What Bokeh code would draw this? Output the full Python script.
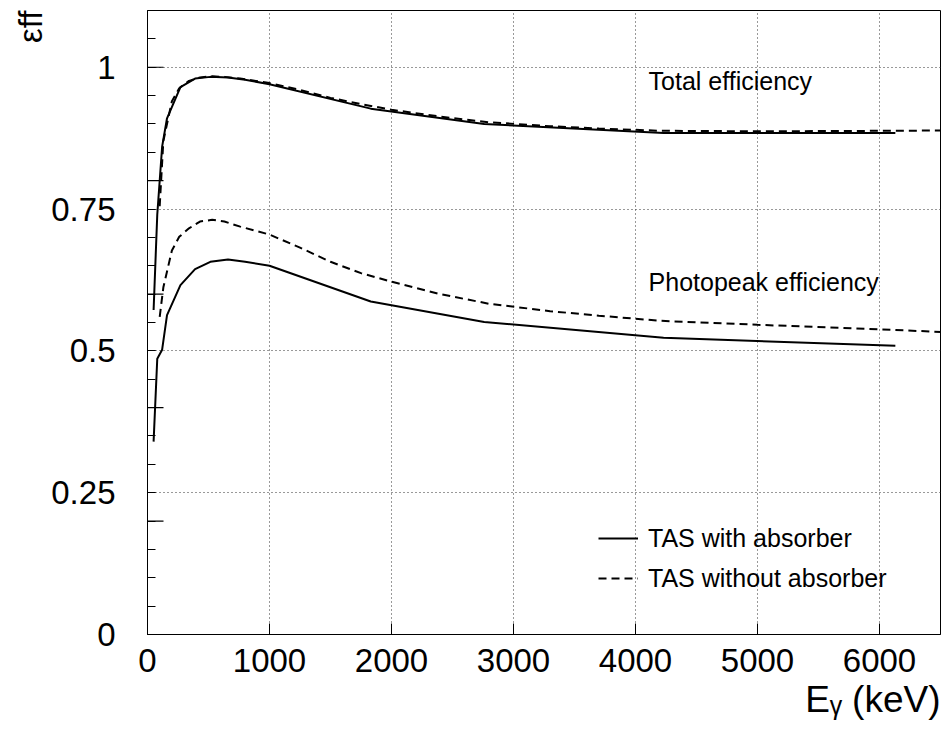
from bokeh.plotting import figure
from bokeh.models import (Range1d, FixedTicker, Label, Legend, LegendItem,
                          NumeralTickFormatter, Title)
from bokeh.embed import file_html
from bokeh.resources import INLINE

# Simulated detector efficiencies vs gamma energy (keV)
energy_with = [50, 80, 120, 160, 270, 390, 515, 660, 800, 1000, 1830, 2760, 4230, 6130]
total_with = [0.572, 0.740, 0.860, 0.910, 0.965, 0.980, 0.983, 0.982, 0.978, 0.970,
              0.927, 0.900, 0.884, 0.884]
peak_with = [0.340, 0.486, 0.502, 0.563, 0.616, 0.644, 0.657, 0.661, 0.657, 0.650,
             0.587, 0.551, 0.523, 0.509]

energy_without = [100, 130, 200, 260, 340, 430, 530, 630, 760, 1000, 1250, 1500, 1750,
                  2000, 2400, 2800, 3300, 3700, 4200, 5000, 6100, 7000]
total_without = [0.755, 0.870, 0.940, 0.963, 0.976, 0.982, 0.984, 0.983, 0.980, 0.972,
                 0.960, 0.946, 0.935, 0.925, 0.913, 0.903, 0.896, 0.892, 0.888, 0.887,
                 0.888, 0.889]
peak_without = [0.560, 0.612, 0.677, 0.701, 0.716, 0.728, 0.731, 0.728, 0.719, 0.705,
                0.682, 0.657, 0.637, 0.622, 0.600, 0.583, 0.570, 0.562, 0.553, 0.546,
                0.537, 0.529]

x_ticks = [0, 1000, 2000, 3000, 4000, 5000, 6000]
y_label_ticks = [0, 0.25, 0.5, 0.75, 1.0]
y_long_ticks = [0, 0.2, 0.4, 0.6, 0.8, 1.0]
y_minor_ticks = [round(0.05 * k, 2) for k in range(0, 23)]

FONT = "Liberation Sans"

p = figure(width=941, height=734, output_backend="svg", toolbar_location=None,
           x_range=Range1d(0, 6500), y_range=Range1d(0, 1.1),
           min_border_left=147, min_border_right=1, min_border_top=10,
           min_border_bottom=100)
p.background_fill_color = "white"
p.border_fill_color = "white"
p.outline_line_color = "black"
p.outline_line_width = 1

# x axis
p.xaxis.ticker = FixedTicker(ticks=x_ticks, minor_ticks=[])
p.xaxis.major_tick_in = 11
p.xaxis.major_tick_out = 0
p.xaxis.minor_tick_in = 0
p.xaxis.minor_tick_out = 0
p.xaxis.major_label_text_font = FONT
p.xaxis.major_label_text_font_size = "33px"
p.xaxis.major_label_text_color = "black"
p.xaxis.major_label_standoff = 14
p.xaxis.axis_line_color = "black"
p.xaxis.major_tick_line_color = "black"

# y axis
p.yaxis.ticker = FixedTicker(ticks=y_label_ticks, minor_ticks=y_minor_ticks)
p.yaxis.formatter = NumeralTickFormatter(format="0.[00]")
p.yaxis.major_tick_in = 8
p.yaxis.major_tick_out = 0
p.yaxis.minor_tick_in = 8
p.yaxis.minor_tick_out = 0
p.yaxis.major_label_text_font = FONT
p.yaxis.major_label_text_font_size = "33px"
p.yaxis.major_label_text_color = "black"
p.yaxis.major_label_standoff = 32
p.yaxis.axis_line_color = "black"
p.yaxis.major_tick_line_color = "black"
p.yaxis.minor_tick_line_color = "black"

# dotted grid
p.xgrid.ticker = FixedTicker(ticks=x_ticks)
p.ygrid.ticker = FixedTicker(ticks=y_label_ticks)
for g in (p.xgrid, p.ygrid):
    g.grid_line_color = "#333333"
    g.grid_line_dash = "1 3"
    g.grid_line_width = 1

# longer primary ticks on the left edge
p.ray(x=[0] * len(y_long_ticks), y=y_long_ticks, length=16, angle=0,
      length_units="screen", line_color="black", line_width=1.2)

r_tot_with = p.line(energy_with, total_with, line_color="black", line_width=2)
r_pk_with = p.line(energy_with, peak_with, line_color="black", line_width=2)
r_tot_without = p.line(energy_without, total_without, line_color="black",
                       line_width=2, line_dash="8 5")
r_pk_without = p.line(energy_without, peak_without, line_color="black",
                      line_width=2, line_dash="8 5")

legend = Legend(items=[LegendItem(label="TAS with absorber", renderers=[r_tot_with]),
                       LegendItem(label="TAS without absorber", renderers=[r_tot_without])],
                location=(451, 36), padding=0, margin=0, spacing=0,
                glyph_width=40, glyph_height=40, label_height=40, label_standoff=10,
                label_text_font=FONT, label_text_font_size="25px",
                label_text_color="black",
                border_line_color=None, background_fill_alpha=0)
p.add_layout(legend)

p.add_layout(Label(x=4107, y=0.951, text="Total efficiency", text_font=FONT,
                   text_font_size="25px", text_color="black"))
p.add_layout(Label(x=4107, y=0.596, text="Photopeak efficiency", text_font=FONT,
                   text_font_size="25px", text_color="black"))

# axis titles
p.add_layout(Title(text="\u03b5ff", align="right", text_font=FONT,
                   text_font_size="33px", text_font_style="normal",
                   text_color="black", standoff=0), "left")
p.add_layout(Title(text="E\u1d67 (keV)", align="right", text_font=FONT,
                   text_font_size="37px", text_font_style="normal",
                   text_color="black", standoff=5), "below")

open("out.html", "w").write(file_html(p, INLINE))
